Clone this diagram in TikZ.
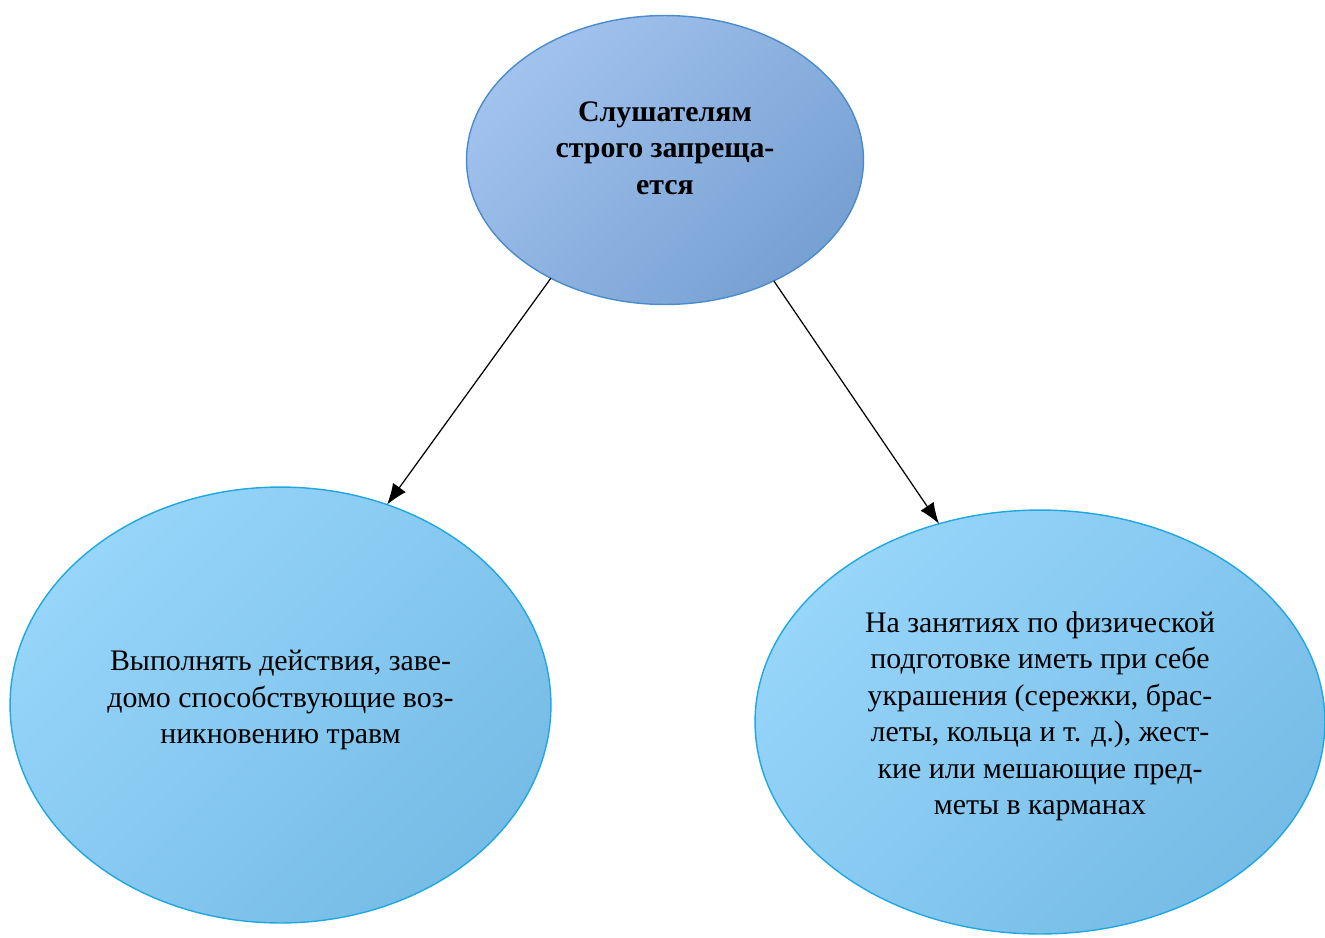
\documentclass[tikz,border=0pt]{standalone}
\usepackage{fontspec}
\setmainfont{Liberation Serif}
\usetikzlibrary{shapes.geometric,arrows.meta}
\definecolor{topfillA}{HTML}{A2C2EE}
\definecolor{topfillB}{HTML}{77A1D2}
\definecolor{topline}{HTML}{4A8CCB}
\definecolor{lowfillA}{HTML}{97D5FA}
\definecolor{lowfillB}{HTML}{76BCE6}
\definecolor{lowline}{HTML}{1FA8E0}
\begin{document}
\begin{tikzpicture}[x=0.02cm, y=-0.02cm, line join=round, >={Latex[length=12pt,width=9pt]},
		font=\fontsize{17}{20.8}\selectfont,
		head/.style={ellipse, draw=topline, line width=0.8pt, top color=topfillA, bottom color=topfillB, shading angle=45, inner sep=0pt, outer sep=0pt, align=center},
		item/.style={ellipse, draw=lowline, line width=0.8pt, top color=lowfillA, bottom color=lowfillB, shading angle=45, inner sep=0pt, outer sep=0pt, align=center}]
			\useasboundingbox (0,0) rectangle (1325,937);
			\node[head, minimum width=7.94cm, minimum height=5.78cm, text depth=14pt] (rule) at (665,160){\textbf{Слушателям}\\\textbf{строго запреща-}\\\textbf{ется}};
			\node[item, minimum width=10.82cm, minimum height=8.72cm, text depth=9pt] (acts) at (280.5,705){Выполнять действия, заве-\\домо способствующие воз-\\никновению травм};
			\node[item, minimum width=11.4cm, minimum height=8.48cm, text depth=10pt] (things) at (1040,722){На занятиях по физической\\подготовке иметь при себе\\украшения (сережки, брас-\\леты, кольца и т. д.), жест-\\кие или мешающие пред-\\меты в карманах};
			\draw [->, line width=0.7pt] (rule.226.5)--(acts.62);
			\draw [->, line width=0.7pt] (rule.312)--(things.117);
		\end{tikzpicture}
\end{document}
